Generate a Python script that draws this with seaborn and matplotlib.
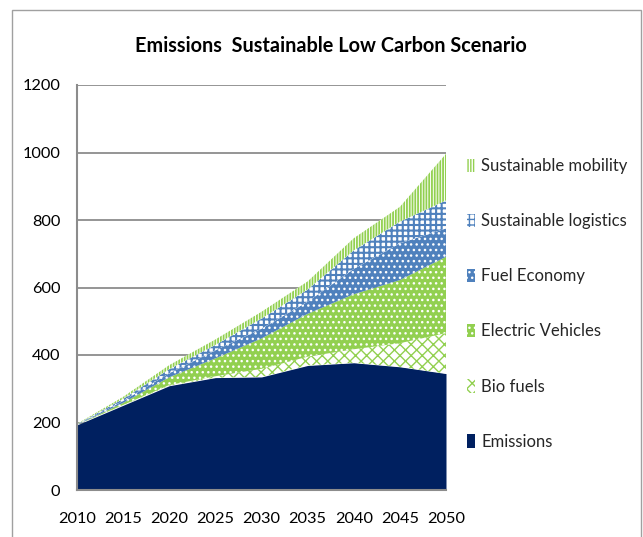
import numpy as np
import matplotlib
matplotlib.use("Agg")
import matplotlib.pyplot as plt
from matplotlib.patches import Patch, Rectangle
import seaborn as sns

# Scenario data (Mt CO2), contributions stacked bottom to top
years = [2010, 2015, 2020, 2025, 2030, 2035, 2040, 2045, 2050]
emissions = [193, 251, 309, 333, 335, 369, 377, 365, 345]
bio_fuels = [0, 1, 2, 4, 24, 26, 40, 70, 120]
electric_vehicles = [0, 6, 23, 53, 90, 127, 163, 187, 226]
fuel_economy = [1, 6, 12, 24, 29, 36, 75, 109, 84]
sustainable_logistics = [1, 6, 12, 16, 30, 36, 55, 64, 83]
sustainable_mobility = [1, 6, 12, 16, 20, 24, 36, 44, 138]

series_names = ["Emissions", "Bio fuels", "Electric Vehicles", "Fuel Economy",
                "Sustainable logistics", "Sustainable mobility"]
y_ticks = [0, 200, 400, 600, 800, 1000, 1200]
x_ticks = [2010, 2015, 2020, 2025, 2030, 2035, 2040, 2045, 2050]

NAVY = "#002060"
GREEN = "#92D050"
BLUE = "#4F81BD"

# face colour, hatch colour, hatch pattern, hatch line width
styles = [
    (NAVY, NAVY, None, 1.0),
    ("white", GREEN, "xxx", 1.0),
    (GREEN, "white", "...", 1.0),
    (BLUE, "white", "...", 1.0),
    ("white", BLUE, "+++", 1.5),
    ("white", GREEN, "||||||", 1.3),
]

sns.set_theme(style="white")
plt.rcParams["font.family"] = ["Lato", "DejaVu Sans"]

fig = plt.figure(figsize=(6.43, 5.37), dpi=100)
ax = fig.add_axes([77 / 643, 1 - 490 / 537, (446 - 77) / 643, (490 - 85) / 537])

layers = [emissions, bio_fuels, electric_vehicles, fuel_economy,
          sustainable_logistics, sustainable_mobility]
x = np.array(years)
base = np.zeros(len(years))
handles = []
for name, vals, (fc, hc, hatch, hlw) in zip(series_names, layers, styles):
    top = base + np.array(vals, dtype=float)
    with plt.rc_context({"hatch.linewidth": hlw}):
        coll = ax.fill_between(x, base, top, facecolor=fc, edgecolor=hc,
                               hatch=hatch, linewidth=0, zorder=2)
        if hasattr(coll, "set_hatch_linewidth"):
            coll.set_hatch_linewidth(hlw)
        h = Patch(facecolor=fc, edgecolor=hc, hatch=hatch, linewidth=0)
        if hasattr(h, "set_hatch_linewidth"):
            h.set_hatch_linewidth(hlw)
    handles.append(h)
    base = top

ax.set_xlim(years[0], years[-1])
ax.set_ylim(0, 1200)
ax.set_xticks(x_ticks)
ax.set_xticklabels([str(t) for t in x_ticks])
ax.set_yticks(y_ticks)
ax.set_yticklabels([str(t) for t in y_ticks])
ax.tick_params(axis="both", length=0, labelsize=11.8, colors="black")
ax.tick_params(axis="y", pad=12)
ax.tick_params(axis="x", pad=16)
ax.yaxis.grid(True, color="#8c8c8c", linewidth=1.3, zorder=1)
ax.set_axisbelow(True)
for side in ["top", "right"]:
    ax.spines[side].set_visible(False)
for side in ["left", "bottom"]:
    ax.spines[side].set_color("#8c8c8c")
    ax.spines[side].set_linewidth(1.5)
    ax.spines[side].set_zorder(3)

fig.text(331 / 643, 1 - 46 / 537, "Emissions  Sustainable Low Carbon Scenario",
         ha="center", va="center", fontsize=14.3, fontweight="bold", color="black")

leg = fig.legend(handles[::-1], series_names[::-1], loc="upper left",
                 bbox_to_anchor=(467 / 643, 1 - 158 / 537), frameon=False,
                 fontsize=12, handlelength=0.5, handleheight=0.85,
                 handletextpad=0.35, labelspacing=2.35, borderaxespad=0,
                 borderpad=0)

# chart area border
fig.patches.append(Rectangle((12 / 643, -0.05), (641 - 12) / 643, 1.05 - 10 / 537,
                             transform=fig.transFigure, fill=False,
                             edgecolor="#a0a0a0", linewidth=1.0))

fig.savefig("out.png", dpi=100)
